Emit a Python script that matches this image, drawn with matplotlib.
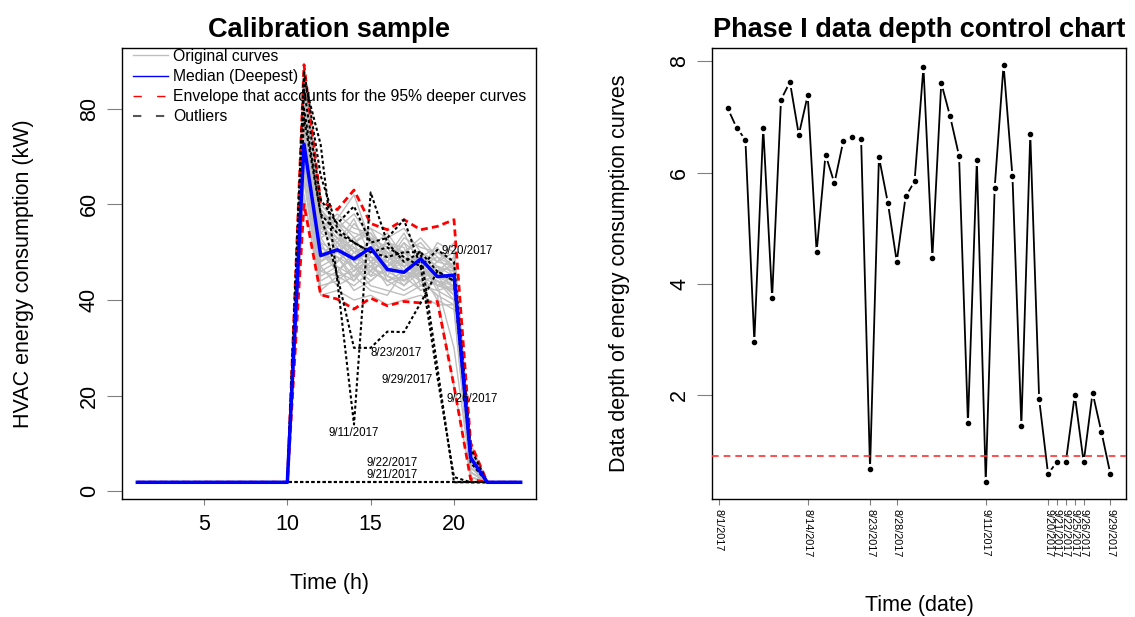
import matplotlib
matplotlib.use("Agg")
import matplotlib.pyplot as plt
from matplotlib.lines import Line2D

plt.rcParams["font.family"] = ["Liberation Sans", "DejaVu Sans"]

# ---------------- left panel data (kW per hour) ----------------
hours = list(range(1, 25))
baseline_am = [1.9, 1.9, 1.9, 1.9, 1.9, 1.9, 1.9, 1.9, 1.9, 1.9]   # hours 1-10
baseline_pm = [1.9, 1.9, 1.9]                                       # hours 22-24

# hours 11..21 of the non-outlying days
original_curves = [
    [80, 52, 50, 47, 49, 48, 46, 44, 45, 43, 5],
    [76, 55, 53, 51, 48, 50, 47, 49, 46, 44, 6],
    [84, 58, 54, 50, 52, 47, 49, 45, 47, 42, 8],
    [70, 46, 48, 52, 45, 46, 44, 47, 43, 45, 4],
    [78, 50, 47, 45, 50, 52, 48, 46, 44, 41, 7],
    [88, 60, 56, 54, 53, 51, 50, 52, 48, 50, 9],
    [74, 48, 52, 49, 47, 45, 50, 48, 46, 47, 6],
    [82, 54, 57, 62, 52, 50, 48, 46, 45, 44, 5],
    [68, 44, 46, 44, 48, 43, 45, 42, 44, 40, 3],
    [86, 57, 50, 53, 55, 49, 47, 50, 47, 46, 8],
    [72, 51, 49, 47, 44, 47, 52, 49, 45, 48, 6],
    [79, 53, 55, 50, 51, 54, 49, 47, 49, 45, 7],
    [65, 42, 45, 43, 46, 44, 42, 44, 41, 39, 4],
    [83, 56, 52, 57, 49, 48, 53, 51, 50, 47, 9],
    [77, 49, 51, 46, 53, 45, 44, 48, 42, 43, 5],
    [85, 59, 54, 48, 50, 52, 51, 43, 46, 49, 8],
    [71, 47, 43, 45, 42, 41, 46, 45, 43, 44, 5],
    [81, 55, 58, 55, 54, 50, 48, 49, 51, 46, 7],
    [75, 50, 48, 51, 46, 49, 47, 42, 44, 42, 6],
    [87, 58, 56, 52, 55, 53, 55, 50, 48, 52, 10],
    [69, 45, 47, 42, 44, 47, 43, 46, 40, 38, 3],
    [80, 52, 46, 49, 51, 44, 45, 47, 45, 41, 6],
    [73, 48, 50, 53, 48, 46, 49, 44, 47, 45, 5],
    [84, 57, 53, 50, 47, 51, 46, 48, 43, 30, 4],
    [78, 51, 49, 44, 50, 48, 52, 45, 46, 44, 7],
    [66, 43, 44, 47, 43, 42, 41, 43, 42, 40, 3],
    [82, 56, 51, 56, 52, 47, 50, 53, 49, 47, 8],
    [76, 49, 53, 48, 45, 50, 44, 46, 44, 43, 5],
    [88, 59, 55, 58, 53, 49, 54, 47, 50, 48, 9],
    [70, 46, 45, 46, 49, 46, 48, 44, 41, 22, 3],
    [79, 54, 52, 47, 46, 53, 47, 49, 47, 46, 6],
    [74, 50, 46, 50, 51, 45, 43, 48, 45, 44, 5],
    [86, 55, 57, 53, 48, 52, 50, 46, 52, 50, 9],
    [72, 47, 49, 45, 47, 44, 46, 50, 43, 42, 4],
    [81, 53, 48, 52, 54, 48, 45, 45, 48, 47, 7],
    [62, 41, 42, 40, 41, 39, 40, 41, 39, 39, 3],
]
median_curve = [72.6, 49.3, 50.5, 48.6, 50.9, 46.4, 45.8, 48.6, 44.9, 45.2, 7.0]
env_upper = [89.2, 60.6, 58.9, 63.0, 56.0, 54.7, 56.8, 54.7, 55.4, 56.8, 10.1]
env_lower = [60.0, 41.1, 40.2, 38.1, 40.4, 38.8, 39.7, 39.4, 39.7, 22.0, 2.5]

outlier_names = ["9/20/2017", "8/23/2017", "9/29/2017", "9/26/2017",
                 "9/11/2017", "9/22/2017", "9/21/2017"]
outlier_curves = [
    [84, 61, 56, 59.6, 52, 53, 56.8, 47, 50.5, 48, 9],
    [78, 58, 45, 30, 30, 33.4, 33.3, 39.4, 46, 44, 6],
    [88, 66, 55, 52, 50, 51, 49, 47, 24, 3, 1.9],
    [80, 58, 54, 52, 50, 49, 50, 50, 26, 1.9, 1.9],
    [86, 72.5, 44, 14, 62.5, 52, 48, 50, 46, 44, 7],
    [1.9, 1.9, 1.9, 1.9, 1.9, 1.9, 1.9, 1.9, 1.9, 1.9, 1.9],
    [1.9, 1.9, 1.9, 1.9, 1.9, 1.9, 1.9, 1.9, 1.9, 1.9, 1.9],
]
outlier_label_x = [20.8, 16.5, 17.16, 21.1, 14.0, 16.26, 16.26]
outlier_label_y = [50.2, 28.9, 23.3, 19.4, 12.2, 6.0, 3.5]

# ---------------- right panel data ----------------
depth = [7.16, 6.81, 6.59, 2.96, 6.81, 3.75, 7.31, 7.63, 6.68, 7.39,
         4.57, 6.32, 5.81, 6.57, 6.64, 6.60, 0.67, 6.28, 5.46, 4.40,
         5.57, 5.84, 7.90, 4.47, 7.61, 7.01, 6.30, 1.49, 6.23, 0.43,
         5.72, 7.94, 5.93, 1.45, 6.69, 1.92, 0.58, 0.80, 0.80, 2.00,
         0.79, 2.04, 1.33, 0.58]
depth_limit = 0.91
date_ticks = [0, 10, 17, 20, 30, 37, 38, 39, 40, 41, 44]
date_labels = ["8/1/2017", "8/14/2017", "8/23/2017", "8/28/2017", "9/11/2017",
               "9/20/2017", "9/21/2017", "9/22/2017", "9/25/2017", "9/26/2017",
               "9/29/2017"]


def full_day(mid):
    return baseline_am + mid + baseline_pm


fig = plt.figure(figsize=(11.35, 6.17), dpi=100)
ax1 = fig.add_axes([0.10749, 0.19125, 0.36476, 0.73096])
ax2 = fig.add_axes([0.62757, 0.19125, 0.36423, 0.73096])

# left: functional boxplot style
for c in original_curves:
    ax1.plot(hours, full_day(c), color="#BEBEBE", lw=1.0, zorder=2)
ax1.plot(hours, full_day(env_upper), color="red", lw=2, ls=(0, (2.5, 1.5)), zorder=3)
ax1.plot(hours, full_day(env_lower), color="red", lw=2, ls=(0, (2.5, 1.5)), zorder=3)
for c in outlier_curves:
    ax1.plot(hours, full_day(c), color="black", lw=1.5, ls=(0, (1.5, 1.2)), zorder=4)
ax1.plot(hours, full_day(median_curve), color="blue", lw=2.5, zorder=5)
for name, lx, ly in zip(outlier_names, outlier_label_x, outlier_label_y):
    ax1.text(lx, ly, name, ha="center", va="center", fontsize=8.3, zorder=6)

ax1.margins(0.04)
ax1.set_xticks([5, 10, 15, 20])
ax1.set_yticks([0, 20, 40, 60, 80])
ax1.set_title("Calibration sample", fontsize=19.5, fontweight="bold", pad=8)

handles = [
    Line2D([], [], color="#BEBEBE", lw=1),
    Line2D([], [], color="blue", lw=1),
    Line2D([], [], color="red", lw=1, ls=(0, (6, 11))),
    Line2D([], [], color="#555555", lw=1.5, ls=(0, (4, 7))),
]
labels = ["Original curves", "Median (Deepest)",
          "Envelope that accounts for the 95% deeper curves", "Outliers"]
ax1.legend(handles, labels, loc="upper left", bbox_to_anchor=(0.027, 0.998),
           frameon=False, fontsize=11.3, handlelength=2.23, handletextpad=0.32,
           labelspacing=0.33, borderpad=0, borderaxespad=0)

# right: depth control chart
x = list(range(1, len(depth) + 1))
ax2.plot(x, depth, color="black", lw=1.3, zorder=2)
ax2.plot(x, depth, "o", ms=7, color="white", zorder=3)
ax2.plot(x, depth, "o", ms=3, color="black", zorder=4)
ax2.axhline(depth_limit, color="#FF3030", lw=1.2, ls=(0, (4, 3)), zorder=5)
ax2.margins(0.04)
ax2.set_yticks([2, 4, 6, 8])
ax2.set_xticks(date_ticks)
ax2.set_xticklabels(date_labels, rotation=-90, fontsize=7.8, va="top", ha="center")
ax2.set_title("Phase I data depth control chart", fontsize=19.5,
              fontweight="bold", pad=8)

for ax in (ax1, ax2):
    for s in ax.spines.values():
        s.set_color("black")
        s.set_linewidth(1.0)
    ax.tick_params(axis="y", length=11, width=0.8, color="#808080",
                   labelsize=15.5, labelrotation=90, pad=5)
    ax.tick_params(axis="x", length=4, width=0.8, color="#808080")
    for t in ax.get_yticklabels():
        t.set_va("center")
ax1.tick_params(axis="x", labelsize=15.5, pad=7)
ax2.tick_params(axis="x", pad=3)

fig.text(0.5 * (0.10749 * 2 + 0.36476), 0.0551, "Time (h)", ha="center",
         va="center", fontsize=15.5)
fig.text(0.62757 + 0.36423 / 2, 0.0194, "Time (date)", ha="center",
         va="center", fontsize=15.5)
fig.text(0.0205, 0.5567, "HVAC energy consumption (kW)", rotation=90,
         ha="center", va="center", fontsize=15.5)
fig.text(0.5455, 0.5567, "Data depth of energy consumption curves", rotation=90,
         ha="center", va="center", fontsize=15.5)

fig.savefig("out.png", dpi=100)
